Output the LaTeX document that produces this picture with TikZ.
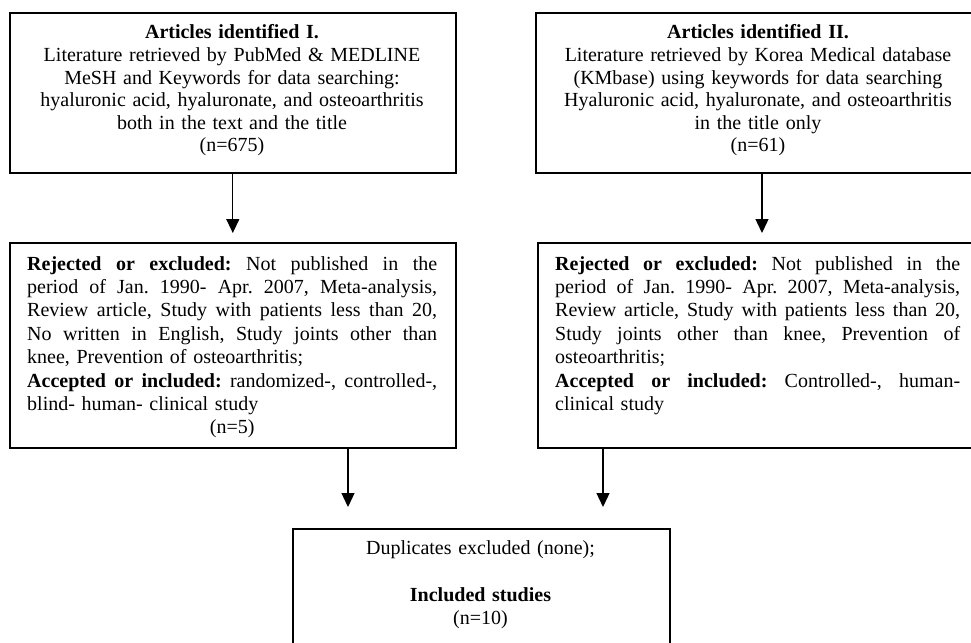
\documentclass[tikz,border=0pt]{standalone}
\usepackage{fontspec}
\setmainfont{Liberation Serif}
\usetikzlibrary{arrows.meta}
\newcommand{\jf}{\hspace{5pt plus 1fill}}
\newcommand{\jlA}[1]{\leavevmode\hbox to 410pt{#1}}
\newcommand{\jlB}[1]{\leavevmode\hbox to 405pt{#1}}
\begin{document}
\frenchspacing
\begin{tikzpicture}[x=1pt,y=-1pt,
  box/.style={draw, line width=1.6pt, inner sep=0pt, anchor=north west},
  toptxt/.style={inner sep=0pt, anchor=base, text width=440pt, align=center, font=\fontsize{20}{22.5}\selectfont},
  bodytxt/.style={inner sep=0pt, anchor=base west, align=left, font=\fontsize{20}{23.4}\selectfont},
  arr/.style={line width=1.3pt, -{Triangle[width=13pt,length=14pt]}}]
\useasboundingbox (0,0) rectangle (971,642);
\clip (0,0) rectangle (971,642);
\fill[white] (0,0) rectangle (971,642);
% boxes
\node[box, minimum width=446pt, minimum height=160pt] (b1) at (9,12) {};
\node[box, minimum width=446pt, minimum height=160pt] (b2) at (535,12) {};
\node[box, minimum width=446pt, minimum height=205pt] (b3) at (9,242) {};
\node[box, minimum width=441pt, minimum height=205pt] (b4) at (537,242) {};
\node[box, minimum width=377pt, minimum height=140pt] (b5) at (292,528) {};
% texts
\node[toptxt] (t1) at (232,39) {\textbf{Articles identified I.}\\Literature retrieved by PubMed \& MEDLINE\\MeSH and Keywords for data searching:\\hyaluronic acid, hyaluronate, and osteoarthritis\\both in the text and the title\\(n=675)};
\node[toptxt] (t2) at (758,39) {\textbf{Articles identified II.}\\Literature retrieved by Korea Medical database\\(KMbase) using keywords for data searching\\Hyaluronic acid, hyaluronate, and osteoarthritis\\in the title only\\(n=61)};
\node[bodytxt, text width=410pt] (t3) at (27,270) {%
\jlA{\textbf{Rejected}\jf\textbf{or}\jf\textbf{excluded:}\jf Not\jf published\jf in\jf the}\\
\jlA{period\jf of\jf Jan.\jf 1990-\jf Apr.\jf 2007,\jf Meta-analysis,}\\
\jlA{Review\jf article,\jf Study\jf with\jf patients\jf less\jf than\jf 20,}\\
\jlA{No\jf written\jf in\jf English,\jf Study\jf joints\jf other\jf than}\\
knee, Prevention of osteoarthritis;\\
\jlA{\textbf{Accepted}\jf\textbf{or}\jf\textbf{included:}\jf randomized-,\jf controlled-,}\\
blind- human- clinical study\\
\jlA{\hfil(n=5)\hfil}};
\node[bodytxt, text width=405pt] (t4) at (555,270) {%
\jlB{\textbf{Rejected}\jf\textbf{or}\jf\textbf{excluded:}\jf Not\jf published\jf in\jf the}\\
\jlB{period\jf of\jf Jan.\jf 1990-\jf Apr.\jf 2007,\jf Meta-analysis,}\\
\jlB{Review\jf article,\jf Study\jf with\jf patients\jf less\jf than\jf 20,}\\
\jlB{Study\jf joints\jf other\jf than\jf knee,\jf Prevention\jf of}\\
osteoarthritis;\\
\jlB{\textbf{Accepted}\jf\textbf{or}\jf\textbf{included:}\jf Controlled-,\jf human-}\\
clinical study};
\node[inner sep=0pt, anchor=base, text width=370pt, align=center, font=\fontsize{20}{23.5}\selectfont] (t5) at (480.5,554) {Duplicates excluded (none);\\[23.5pt]\textbf{Included studies}\\(n=10)};
% connectors
\coordinate (c2) at (762,0);
\coordinate (c3) at (348,0);
\coordinate (c4) at (603,0);
\draw[arr, shorten >=9pt] (b1) -- (b3);
\draw[arr, shorten >=9pt] (b2.south -| c2) -- (b4.north -| c2);
\draw[arr, shorten >=21pt] (b3.south -| c3) -- (b5.north -| c3);
\draw[arr, shorten >=21pt] (b4.south -| c4) -- (b5.north -| c4);
\end{tikzpicture}
\end{document}
